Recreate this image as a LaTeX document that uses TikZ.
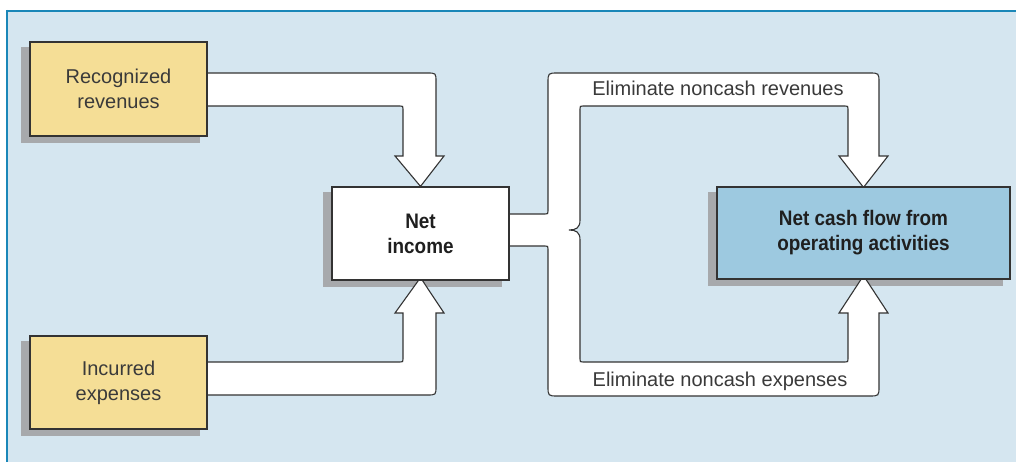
\documentclass[tikz,border=0pt]{standalone}
\usepackage{fontspec}
\setmainfont{Liberation Sans}
\newfontfamily\condbold[FakeStretch=0.9]{Liberation Sans Bold}
\definecolor{bgblue}{HTML}{D5E6F0}
\definecolor{frameblue}{HTML}{1A87B8}
\definecolor{boxyellow}{HTML}{F5DE96}
\definecolor{boxblue}{HTML}{9DC9E0}
\definecolor{shadowgray}{HTML}{A7A9AC}
\definecolor{linegray}{HTML}{333333}
\definecolor{textgray}{HTML}{3A3A3A}
\pgfdeclarelayer{panel}
\pgfdeclarelayer{shadows}
\pgfdeclarelayer{arrows}
\pgfsetlayers{panel,shadows,arrows,main}
\begin{document}
\begin{tikzpicture}[x=1pt,y=-1pt,
  box/.style={draw=linegray,line width=1.2pt,inner sep=0pt,align=center,
    font=\fontsize{20}{25}\selectfont},
  regbox/.style={box,fill=boxyellow,text=textgray},
  boldbox/.style={box,font=\fontsize{21}{25}\selectfont\condbold,text=black!88},
  blockarrow/.style={draw=linegray,line width=1.1pt,fill=white,line join=miter},
  lbl/.style={anchor=base,text=textgray,font=\fontsize{20}{24}\selectfont,inner sep=0pt}]
\useasboundingbox (0,0) rectangle (1016,462);
% background panel
\begin{pgfonlayer}{panel}
\fill[bgblue] (7,11) rectangle (1016,462);
\draw[frameblue,line width=2pt] (6,11) -- (1016,11);
\draw[frameblue,line width=2pt] (7,10) -- (7,462);
\end{pgfonlayer}
% boxes
\node[regbox,minimum width=177,minimum height=94] (rec) at (118.5,89) {Recognized\\revenues};
\node[regbox,minimum width=177,minimum height=93] (inc) at (118.5,382.5) {Incurred\\expenses};
\node[boldbox,fill=white,minimum width=177,minimum height=93] (net) at (420.5,233.5) {Net\\income};
\node[boldbox,fill=boxblue,minimum width=293,minimum height=92] (cash) at (863.5,233) {Net cash flow from\\operating activities};
% shadows
\begin{pgfonlayer}{shadows}
\foreach \n in {rec,inc,net,cash}{
  \fill[shadowgray] ([shift={(-8,6)}]\n.north west) rectangle ([shift={(-8,6)}]\n.south east);
}
\end{pgfonlayer}
% block arrows
\begin{pgfonlayer}{arrows}
\draw[blockarrow] ([xshift=-6]rec.east |- 0,73) -- (427,73) .. controls (436,73) .. (436,82)
  -- (436,156) -- (444,156) -- (net.north) -- (395,156) -- (403,156)
  -- (403,109) .. controls (403,106) .. (400,106) -- ([xshift=-6]rec.east |- 0,106) -- cycle;
\draw[blockarrow] ([xshift=-6]inc.east |- 0,395) -- (427,395) .. controls (436,395) .. (436,386)
  -- (436,313) -- (444,313) -- ([yshift=3]net.south) -- (395,313) -- (403,313)
  -- (403,359) .. controls (403,362) .. (400,362) -- ([xshift=-6]inc.east |- 0,362) -- cycle;
\draw[blockarrow] ([xshift=-6]net.east |- 0,214) -- (545,214) .. controls (548,214) .. (548,211)
  -- (548,83) .. controls (548,73) .. (558,73) -- (869,73) .. controls (879,73) .. (879,83)
  -- (879,156) -- (888,156) -- ([yshift=-1]cash.north) -- (839,156) -- (848,156)
  -- (848,109) .. controls (848,106) .. (845,106) -- (583,106) .. controls (580,106) .. (580,109)
  -- (580,220) .. controls (580,228) and (576,230) .. (569,230)
  .. controls (576,230) and (580,232) .. (580,240)
  -- (580,359) .. controls (580,362) .. (583,362) -- (845,362) .. controls (848,362) .. (848,359)
  -- (848,313) -- (839,313) -- ([yshift=4]cash.south) -- (888,313) -- (879,313)
  -- (879,386) .. controls (879,396) .. (869,396) -- (558,396) .. controls (548,396) .. (548,386)
  -- (548,249) .. controls (548,246) .. (545,246) -- ([xshift=-6]net.east |- 0,246) -- cycle;
\end{pgfonlayer}
% labels
\node[lbl] (elrev) at (718,96) {Eliminate noncash revenues};
\node[lbl] (elexp) at (720,386) {Eliminate noncash expenses};
\end{tikzpicture}
\end{document}
